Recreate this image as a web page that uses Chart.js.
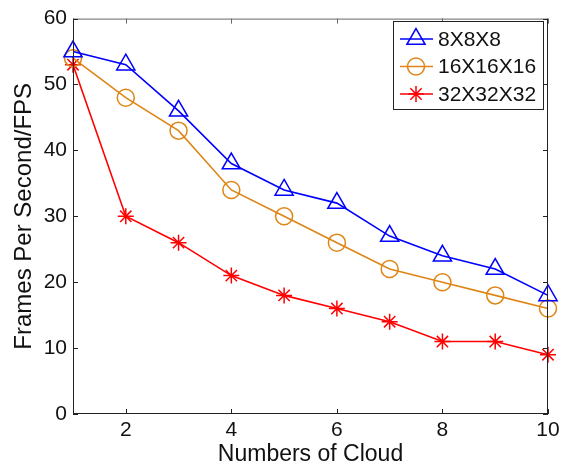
<!DOCTYPE html>
<html>
<head>
<meta charset="utf-8">
<script src="https://cdn.jsdelivr.net/npm/chart.js@4"></script>
<style>
html,body{margin:0;padding:0;background:#fff;}
#wrap{width:565px;height:468px;}
</style>
</head>
<body>
<div id="wrap"><canvas id="c" width="565" height="468"></canvas></div>
<script>
const clouds = [1, 2, 3, 4, 5, 6, 7, 8, 9, 10];
const fps8 = [55, 53, 46, 38, 34, 32, 27, 24, 22, 18];
const fps16 = [54, 48, 43, 34, 30, 26, 22, 20, 18, 16];
const fps32 = [53, 30, 26, 21, 18, 16, 14, 11, 11, 9];
const seriesNames = ['8X8X8', '16X16X16', '32X32X32'];
const xTickValues = [2, 4, 6, 8, 10];
const yTickValues = [0, 10, 20, 30, 40, 50, 60];

const FONT = '"Liberation Sans", Arial, sans-serif';
const toPts = (ys) => ys.map((y, i) => ({x: clouds[i], y}));

const frameTicks = {
  id: 'frameTicks',
  afterDraw(chart) {
    const {ctx, chartArea: a, scales} = chart;
    ctx.save();
    ctx.lineWidth = 1;
    const L = 5;
    ctx.strokeStyle = '#666';
    ctx.beginPath();
    ctx.moveTo(a.left, a.top + 0.5); ctx.lineTo(a.right, a.top + 0.5);
    xTickValues.forEach(v => {
      const x = Math.round(scales.x.getPixelForValue(v)) + 0.5;
      ctx.moveTo(x, a.top); ctx.lineTo(x, a.top + L);
    });
    ctx.stroke();
    ctx.strokeStyle = '#222';
    ctx.beginPath();
    ctx.moveTo(a.left + 0.5, a.top); ctx.lineTo(a.left + 0.5, a.bottom);
    ctx.moveTo(a.left, a.bottom - 0.5); ctx.lineTo(a.right, a.bottom - 0.5);
    ctx.moveTo(a.right - 0.5, a.top); ctx.lineTo(a.right - 0.5, a.bottom);
    xTickValues.forEach(v => {
      const x = Math.round(scales.x.getPixelForValue(v)) + 0.5;
      ctx.moveTo(x, a.bottom); ctx.lineTo(x, a.bottom - L);
    });
    yTickValues.forEach(v => {
      const y = Math.round(scales.y.getPixelForValue(v)) + 0.5;
      ctx.moveTo(a.left, y); ctx.lineTo(a.left + L, y);
      ctx.moveTo(a.right, y); ctx.lineTo(a.right - L, y);
    });
    ctx.stroke();
    ctx.restore();
  }
};

const ds = (label, data, color, style, r) => ({
  label, data: toPts(data),
  borderColor: color, backgroundColor: 'rgba(0,0,0,0)',
  borderWidth: 1.6, pointStyle: style, pointRadius: r, pointHoverRadius: r,
  pointBorderColor: color, pointBackgroundColor: 'rgba(0,0,0,0)', pointBorderWidth: 1.5,
  tension: 0, clip: false
});

new Chart(document.getElementById('c'), {
  type: 'line',
  data: {
    datasets: [
      ds(seriesNames[0], fps8, '#0000FF', 'triangle', 10.5),
      ds(seriesNames[1], fps16, '#DF8515', 'circle', 8.5),
      ds(seriesNames[2], fps32, '#FF0000', 'star', 8)
    ]
  },
  options: {
    responsive: false,
    animation: false,
    events: [],
    layout: {padding: {left: 0, top: 15, right: 17, bottom: 0}},
    plugins: {
      legend: {display: false},
      tooltip: {enabled: false}
    },
    scales: {
      x: {
        type: 'linear', min: 1, max: 10,
        afterBuildTicks: (s) => { s.ticks = xTickValues.map(v => ({value: v})); },
        afterFit: (s) => { s.height = 54; },
        grid: {display: false, drawTicks: false},
        border: {display: false},
        ticks: {color: '#111', font: {family: FONT, size: 21}, padding: 4, maxRotation: 0},
        title: {display: true, text: 'Numbers of Cloud', color: '#111', font: {family: FONT, size: 23}, padding: 0}
      },
      y: {
        type: 'linear', min: 0, max: 60,
        afterBuildTicks: (s) => { s.ticks = yTickValues.map(v => ({value: v})); },
        afterFit: (s) => { s.width = 73; },
        grid: {display: false, drawTicks: false},
        border: {display: false},
        ticks: {color: '#111', font: {family: FONT, size: 21}, padding: 6},
        title: {display: true, text: 'Frames Per Second/FPS', color: '#111', font: {family: FONT, size: 24}, padding: {top: 10, bottom: 0}}
      }
    }
  },
  plugins: [frameTicks, {
    id: 'legendBox',
    afterDraw(chart) {
      const {ctx} = chart;
      const bx = 393, by = 21, bw = 150, bh = 88;
      ctx.save();
      ctx.fillStyle = '#fff';
      ctx.fillRect(bx, by, bw, bh);
      ctx.strokeStyle = '#222'; ctx.lineWidth = 1;
      ctx.strokeRect(bx + 0.5, by + 0.5, bw, bh);
      chart.data.datasets.forEach((d, i) => {
        const y = by + 18 + i * 27.5;
        ctx.strokeStyle = d.borderColor; ctx.lineWidth = 1.6;
        ctx.beginPath(); ctx.moveTo(bx + 7, y); ctx.lineTo(bx + 40, y); ctx.stroke();
        ctx.fillStyle = 'rgba(0,0,0,0)';
        ctx.lineWidth = 1.5;
        Chart.helpers.drawPoint(ctx, {pointStyle: d.pointStyle, radius: d.pointRadius, borderWidth: 1.5}, bx + 23, y);
        ctx.fillStyle = '#111';
        ctx.font = '21px ' + FONT;
        ctx.textBaseline = 'middle';
        ctx.fillText(d.label, bx + 45, y + 1);
      });
      ctx.restore();
    }
  }]
});
</script>
</body>
</html>
